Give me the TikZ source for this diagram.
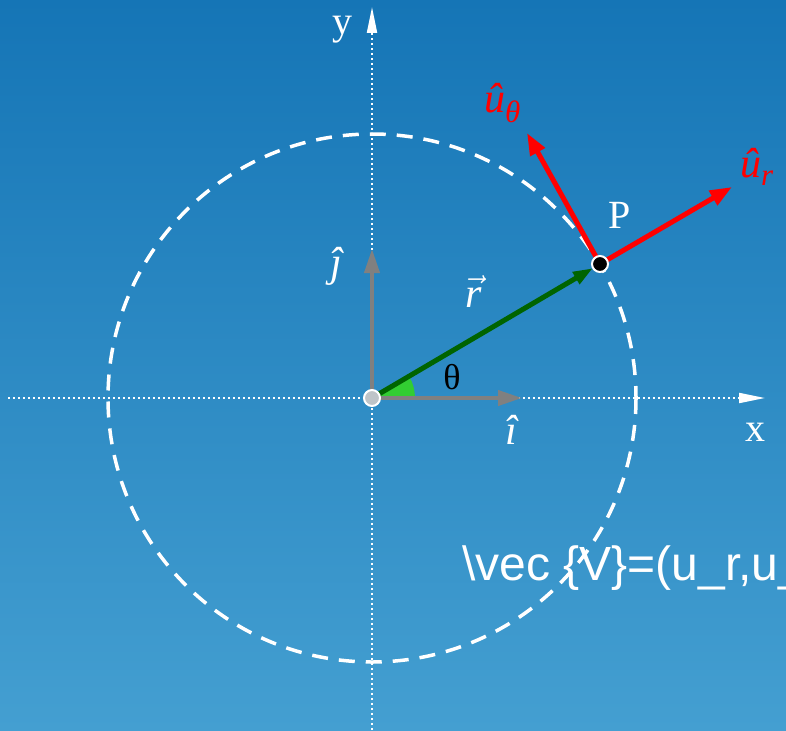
\RequirePackage{fix-cm}
\documentclass[tikz,border=0pt]{standalone}
\usepackage{fontspec}
\setmainfont{Liberation Serif}
\newfontfamily\sansf{Liberation Sans}
\usetikzlibrary{arrows.meta}
\definecolor{bgtop}{RGB}{21,117,182}
\definecolor{bgbot}{RGB}{68,159,209}
\definecolor{vecgray}{RGB}{128,128,128}
\definecolor{rgreen}{RGB}{0,100,0}
\definecolor{anggreen}{RGB}{50,205,50}
\definecolor{ured}{RGB}{255,0,0}
\definecolor{dotgray}{RGB}{190,196,200}
\newcommand{\subfont}{\fontsize{31}{34}\selectfont\itshape}
\begin{document}
\begin{tikzpicture}[x=1pt,y=-1pt,
  axisline/.style={white,line width=2pt,dash pattern=on 2pt off 3pt,-{Triangle[length=26pt,width=10pt]}},
  unitvec/.style={vecgray,line width=4pt,-{Triangle[length=24pt,width=15pt]}},
  redvec/.style={ured,line width=5pt,-{Triangle[length=22pt,width=16pt]}},
  greenvec/.style={rgreen,line width=5pt,-{Triangle[length=20pt,width=13pt]}},
  axislabel/.style={text=white,font=\fontsize{40}{44}\selectfont,inner sep=0,anchor=base},
  mathlabel/.style={text=white,font=\fontsize{42}{46}\selectfont\itshape,inner sep=0,anchor=base},
  redlabel/.style={text=ured,font=\fontsize{42}{46}\selectfont\itshape,inner sep=0,anchor=base west},
  ptdot/.style={circle,draw=white,line width=2pt,minimum size=16pt,inner sep=0}]
\useasboundingbox (0,0) rectangle (786,730);
\clip (0,0) rectangle (786,730);
\shade[top color=bgtop,bottom color=bgbot] (0,0) rectangle (786,730);
% coordinates
\coordinate (o) at (372,398);
\coordinate (p) at (600,264);
\coordinate (xs) at (8,398);
\coordinate (xe) at (765,398);
\coordinate (ys) at (372,730);
\coordinate (ye) at (372,7);
\coordinate (itip) at (522,398);
\coordinate (jtip) at (372,249);
\coordinate (urtip) at (732,187);
\coordinate (uttip) at (527,133);
% axes
\draw[axisline] (xs) -- (xe);
\draw[axisline] (ys) -- (ye);
% circle
\draw[white,line width=3.5pt,dash pattern=on 16pt off 11pt] (o) circle[radius=264];
% angle
\fill[anggreen] (o) -- ++(43,0) arc[start angle=0,end angle=-30,radius=43] -- cycle;
% unit vectors
\draw[unitvec] (o) -- (itip);
\draw[unitvec] (o) -- (jtip);
% position vector
\draw[greenvec,shorten >=8pt] (o) -- (p);
% polar unit vectors
\draw[redvec] (p) -- (urtip);
\draw[redvec] (p) -- (uttip);
% dots
\node[ptdot,fill=dotgray] (O) at (o) {};
\node[ptdot,fill=black] (P) at (p) {};
% labels
\node[axislabel] (ylab) at (342,35) {y};
\node[axislabel] (xlab) at (755,441) {x};
\node[axislabel] (plab) at (620,228) {P};
\node[text=black,font=\fontsize{36}{40}\selectfont,inner sep=0,anchor=base] (thlab) at (452,389) {θ};
\node[mathlabel] (rlab) at (474,307) {$\vec{\mbox{\itshape r}}$};
\node[mathlabel] (jlab) at (336,276) {ĵ};
\node[mathlabel] (ilab) at (511,444) {î};
\node[redlabel] (utlab) at (484,113) {û\raisebox{-10pt}{\subfont θ}};
\node[redlabel] (urlab) at (740,178) {û\raisebox{-8pt}{\subfont r}};
\node[anchor=base west,inner sep=0,text=white,font=\sansf\fontsize{48}{56}\selectfont] (vtext) at (462,580) {\textbackslash vec \{V\}=(u\_r,u\_};
\end{tikzpicture}
\end{document}
